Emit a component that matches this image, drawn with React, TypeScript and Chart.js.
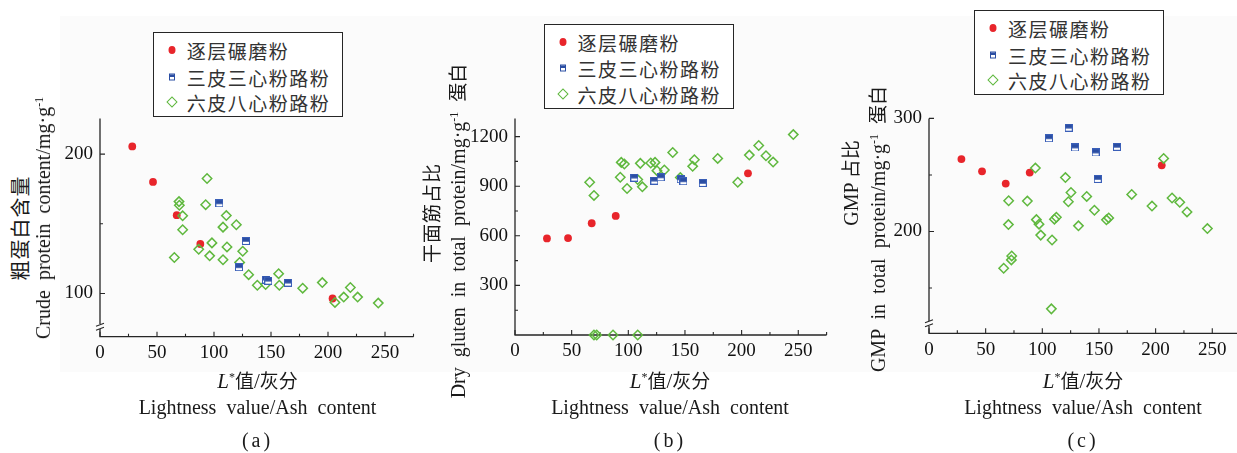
import React, { useEffect, useRef } from 'react';
import { Chart, registerables } from 'chart.js';
Chart.register(...registerables);

// ---------- data ----------
const seriesNames = ['逐层碾磨粉', '三皮三心粉路粉', '六皮八心粉路粉'];

// (a) crude protein content
const aRedX = [28.3, 46.5, 67.3, 88, 204];
const aRedY = [205.5, 180, 156.2, 135.5, 96.4];
const aBlueX = [104.7, 128, 121.9, 145.6, 147.6, 164.9];
const aBlueY = [164.7, 137.7, 118.9, 110, 109.2, 107.8];
const aGreenX = [93.9, 69.3, 69.6, 92.7, 72.5, 110.8, 107.9, 119.6, 72.5, 98.2, 111.4, 86.6, 125.2, 65.2, 96.2, 107.9, 122.5, 130.4, 156.7, 138, 145.3, 157.3, 177.8, 195, 219.6, 213.8, 206.1, 226, 244.1];
const aGreenY = [182.5, 165.9, 163.3, 163.7, 155.7, 155.9, 147.6, 149.3, 145.7, 136.3, 133.4, 131.7, 130.3, 125.8, 127, 124.2, 122.3, 113.5, 114.2, 105.9, 106.4, 105.9, 103.8, 107.8, 104.3, 97.4, 93.6, 97.4, 93.1];

// (b) dry gluten in total protein
const bRedX = [28.2, 46.8, 67.7, 88.9, 205.6];
const bRedY = [584, 586, 676, 720, 978];
const bBlueX = [105.3, 123, 128.6, 146.2, 148.6, 165.7];
const bBlueY = [952, 934, 954, 942, 930, 920];
const bGreenX = [65.9, 69.7, 92.9, 93.8, 96.5, 98.9, 108.3, 110.6, 112.4, 119.8, 123.6, 125.3, 131.8, 139.2, 145.9, 156.8, 158.3, 178.9, 196.6, 206.8, 215.1, 221.5, 227.8, 245.6, 69.7, 72.1, 86.5, 108.3];
const bGreenY = [924, 844, 954, 1044, 1034, 886, 940, 1038, 896, 1040, 1044, 994, 998, 1104, 952, 1020, 1060, 1068, 924, 1088, 1146, 1084, 1046, 1212, 0, 0, 0, 0];

// (c) GMP in total protein
const cRedX = [28.6, 46.8, 67.7, 88.9, 205.4];
const cRedY = [264, 253.2, 242.4, 252.1, 258.5];
const cBlueX = [105.9, 123.3, 128.9, 147.1, 148.9, 165.9];
const cBlueY = [282.5, 291.8, 274.3, 269.9, 246.5, 274.9];
const cGreenX = [93.9, 120.4, 70.3, 86.8, 125.3, 123, 139.2, 178.9, 196.8, 207.1, 214.5, 221.3, 227.7, 245.7, 146, 70.1, 94.8, 97.1, 110.7, 112.4, 131.9, 156.6, 158.6, 98.6, 108.6, 73, 72.7, 65.9, 108];
const cGreenY = [256.1, 247.7, 227.2, 226.9, 234.5, 226.3, 231, 232.8, 222.5, 264.6, 229.6, 225.8, 217.3, 202.6, 218.8, 206.1, 210.5, 206.5, 210.9, 212.6, 205, 210.3, 212, 196.8, 192.5, 178.4, 174.9, 167.5, 131.6];

// ticks
const xMajorTicks = [0, 50, 100, 150, 200, 250];
const xMinorTicks = [25, 75, 125, 175, 225, 275];
const aYMajor = [100, 200];
const aYMinor = [150];
const bYMajor = [300, 600, 900, 1200];
const bYMinor = [150, 450, 750, 1050];
const cYMajor = [200, 300];
const cYMinor = [150, 250];

// ---------- styles ----------
const RED = '#e8252b';
const BLUE = '#2b4ea3';
const GREEN = '#5fb83e';
const AXIS = '#262626';
const SERIF = "'Liberation Serif', 'Times New Roman', Times, 'DejaVu Serif', serif";
const CJK = "'Noto Sans CJK SC', sans-serif";

function makeBlueMarker(): HTMLCanvasElement {
  const c = document.createElement('canvas');
  c.width = 8;
  c.height = 8;
  const g = c.getContext('2d')!;
  g.fillStyle = '#ffffff';
  g.fillRect(0, 0, 8, 8);
  g.fillStyle = BLUE;
  g.fillRect(0, 0, 8, 4.8);
  g.strokeStyle = '#3a5fb8';
  g.lineWidth = 1;
  g.strokeRect(0.5, 0.5, 7, 7);
  return c;
}

const toPts = (xs: number[], ys: number[]) => xs.map((x, i) => ({ x, y: ys[i] }));

const axesPlugin = {
  id: 'axesPlugin',
  beforeDatasetsDraw(chart: any, _args: any, opts: any) {
    const { ctx, chartArea } = chart;
    const { left, right, top, bottom } = chartArea;
    const xs = chart.scales.x;
    const ys = chart.scales.y;
    ctx.save();
    ctx.strokeStyle = AXIS;
    ctx.lineWidth = 1.3;
    ctx.beginPath();
    ctx.moveTo(left, top);
    ctx.lineTo(left, bottom);
    ctx.moveTo(left - 0.6, bottom);
    ctx.lineTo(right, bottom);
    ctx.stroke();
    ctx.lineWidth = 1.1;
    ctx.beginPath();
    for (const v of xMajorTicks) {
      const p = xs.getPixelForValue(v);
      ctx.moveTo(p, bottom);
      ctx.lineTo(p, bottom - 5);
    }
    for (const v of xMinorTicks) {
      const p = xs.getPixelForValue(v);
      ctx.moveTo(p, bottom);
      ctx.lineTo(p, bottom - 3);
    }
    for (const v of opts.yMajor) {
      const p = ys.getPixelForValue(v);
      ctx.moveTo(left, p);
      ctx.lineTo(left + 5, p);
    }
    for (const v of opts.yMinor) {
      const p = ys.getPixelForValue(v);
      ctx.moveTo(left, p);
      ctx.lineTo(left + 3, p);
    }
    ctx.stroke();
    if (opts.brk) {
      const by = bottom - 10;
      ctx.clearRect(left - 2, by - 2.5, 4, 5);
      ctx.beginPath();
      ctx.lineWidth = 1.1;
      ctx.moveTo(left - 4, by - 0.5);
      ctx.lineTo(left + 4, by - 3.5);
      ctx.moveTo(left - 4, by + 3.5);
      ctx.lineTo(left + 4, by + 0.5);
      ctx.stroke();
    }
    ctx.restore();
  },
};

type PanelCfg = {
  box: { left: number; top: number; width: number; height: number };
  area: { left: number; top: number; right: number; bottom: number };
  yMin: number;
  yMax: number;
  yMajor: number[];
  yMinor: number[];
  brk: boolean;
  red: { x: number; y: number }[];
  blue: { x: number; y: number }[];
  green: { x: number; y: number }[];
};

const panels: PanelCfg[] = [
  {
    box: { left: 40, top: 100, width: 390, height: 270 },
    area: { left: 100, top: 116.7, right: 413.5, bottom: 336.7 },
    yMin: 69, yMax: 225.6, yMajor: aYMajor, yMinor: aYMinor, brk: true,
    red: toPts(aRedX, aRedY), blue: toPts(aBlueX, aBlueY), green: toPts(aGreenX, aGreenY),
  },
  {
    box: { left: 455, top: 100, width: 388, height: 270 },
    area: { left: 515, top: 116.7, right: 826.6, bottom: 335 },
    yMin: 0, yMax: 1310, yMajor: bYMajor, yMinor: bYMinor, brk: false,
    red: toPts(bRedX, bRedY), blue: toPts(bBlueX, bBlueY), green: toPts(bGreenX, bGreenY),
  },
  {
    box: { left: 868.5, top: 100, width: 388, height: 270 },
    area: { left: 928.5, top: 116.7, right: 1240.1, bottom: 333.3 },
    yMin: 110, yMax: 300, yMajor: cYMajor, yMinor: cYMinor, brk: true,
    red: toPts(cRedX, cRedY), blue: toPts(cBlueX, cBlueY), green: toPts(cGreenX, cGreenY),
  },
];

function ScatterPanel({ cfg }: { cfg: PanelCfg }) {
  const ref = useRef<HTMLCanvasElement>(null);
  useEffect(() => {
    const { box, area } = cfg;
    const yWidth = area.left - box.left;
    const xHeight = box.top + box.height - area.bottom;
    const padTop = area.top - box.top;
    const padRight = box.left + box.width - area.right;
    const blueImg = makeBlueMarker();
    const chart = new Chart(ref.current!, {
      type: 'scatter',
      data: {
        datasets: [
          {
            label: seriesNames[1], data: cfg.blue, pointStyle: blueImg as any, pointRadius: 4,
            backgroundColor: BLUE, borderColor: BLUE, clip: false as any,
          },
          {
            label: seriesNames[2], data: cfg.green, pointStyle: 'rectRot', pointRadius: 4.7,
            backgroundColor: 'rgba(0,0,0,0)', borderColor: GREEN, borderWidth: 1.5, clip: false as any,
          },
          {
            label: seriesNames[0], data: cfg.red, pointStyle: 'circle', pointRadius: 3.9,
            backgroundColor: RED, borderColor: RED, borderWidth: 0, clip: false as any,
          },
        ],
      },
      options: {
        responsive: false,
        animation: false,
        devicePixelRatio: 1,
        layout: { padding: { top: padTop, right: padRight, left: 0, bottom: 0 } },
        plugins: {
          legend: { display: false },
          tooltip: { enabled: false },
          axesPlugin: { yMajor: cfg.yMajor, yMinor: cfg.yMinor, brk: cfg.brk },
        } as any,
        scales: {
          x: {
            type: 'linear', min: 0, max: 275,
            grid: { display: false, drawTicks: false },
            border: { display: false },
            ticks: { padding: 5, color: '#111', font: { family: SERIF, size: 19 }, maxRotation: 0, callback: (v: any) => String(v) },
            afterBuildTicks: (s: any) => { s.ticks = xMajorTicks.map((v) => ({ value: v })); },
            afterFit: (s: any) => { s.height = xHeight; },
          },
          y: {
            type: 'linear', min: cfg.yMin, max: cfg.yMax,
            grid: { display: false, drawTicks: false },
            border: { display: false },
            ticks: { padding: 7, color: '#111', font: { family: SERIF, size: 19 }, callback: (v: any) => String(v) },
            afterBuildTicks: (s: any) => { s.ticks = cfg.yMajor.map((v) => ({ value: v })); },
            afterFit: (s: any) => { s.width = yWidth; },
          },
        },
      },
      plugins: [axesPlugin as any],
    });
    return () => chart.destroy();
  }, [cfg]);
  const { box } = cfg;
  return (
    <canvas
      ref={ref}
      width={box.width}
      height={box.height}
      style={{ position: 'absolute', left: box.left, top: box.top, width: box.width, height: box.height }}
    />
  );
}

const centered = (cx: number, cy: number, rot = false): React.CSSProperties => ({
  position: 'absolute',
  left: cx,
  top: cy,
  transform: `translate(-50%, -50%)${rot ? ' rotate(-90deg)' : ''}`,
  whiteSpace: 'nowrap',
  lineHeight: 1,
  color: '#1a1a1a',
});

function Legend({ left, top }: { left: number; top: number }) {
  const rowTops = [16.7, 43.4, 68.7];
  const markers = [
    <div style={{ width: 7, height: 8, borderRadius: '50%', background: RED }} />,
    <div style={{ width: 6, height: 7, border: `1px solid ${BLUE}`, boxSizing: 'border-box', background: `linear-gradient(${BLUE} 0 55%, #fff 55% 100%)` }} />,
    <div style={{ width: 6, height: 6, border: `1.3px solid ${GREEN}`, transform: 'rotate(45deg)' }} />,
  ];
  return (
    <div style={{ position: 'absolute', left, top, width: 190, height: 85, border: `1.4px solid ${AXIS}`, boxSizing: 'border-box', background: '#fff' }}>
      {seriesNames.map((n, i) => (
        <React.Fragment key={n}>
          <div style={{ position: 'absolute', left: 18, top: rowTops[i], transform: 'translate(-50%, -50%)' }}>{markers[i]}</div>
          <div style={{ position: 'absolute', left: 33, top: rowTops[i], transform: 'translateY(-50%)', fontFamily: CJK, fontSize: 19, letterSpacing: 1.5, color: '#333', whiteSpace: 'nowrap', lineHeight: 1 }}>{n}</div>
        </React.Fragment>
      ))}
    </div>
  );
}

const cjk = (t: string) => <span style={{ fontFamily: CJK, fontSize: 19 }}>{t}</span>;
const sup = (t: string) => <sup style={{ fontSize: 12, verticalAlign: 7 }}>{t}</sup>;

function XTitles({ cx, tag }: { cx: number; tag: string }) {
  return (
    <>
      <div style={{ ...centered(cx, 381), fontFamily: SERIF, fontSize: 21 }}>
        <i>L</i>{sup('*')}{cjk('值')}/{cjk('灰分')}
      </div>
      <div style={{ ...centered(cx, 407), fontFamily: SERIF, fontSize: 20, wordSpacing: 5 }}>Lightness value/Ash content</div>
      <div style={{ ...centered(cx, 440), fontFamily: SERIF, fontSize: 20, letterSpacing: 3 }}>({tag})</div>
    </>
  );
}

export default function App() {
  return (
    <div style={{ position: 'absolute', left: 0, top: 0, width: 1237, height: 453, overflow: 'hidden', background: '#fff' }}>
      <div style={{ position: 'absolute', left: 60, top: 16, width: 1177, height: 356, background: '#fbfbfb' }} />
      {panels.map((p, i) => <ScatterPanel key={i} cfg={p} />)}

      {/* y titles */}
      <div style={{ ...centered(20, 228, true), fontFamily: CJK, fontSize: 20, letterSpacing: 1 }}>粗蛋白含量</div>
      <div style={{ ...centered(43, 218, true), fontFamily: SERIF, fontSize: 20, wordSpacing: 5 }}>Crude protein content/mg·g{sup('-1')}</div>

      <div style={{ ...centered(430, 213, true), fontFamily: CJK, fontSize: 19, letterSpacing: 1 }}>干面筋占比</div>
      <div style={{ ...centered(457, 231, true), fontFamily: SERIF, fontSize: 20, wordSpacing: 5 }}>Dry gluten in total protein/mg·g{sup('-1')} {cjk('蛋白')}</div>

      <div style={{ ...centered(850, 183, true), fontFamily: SERIF, fontSize: 20 }}>GMP {cjk('占比')}</div>
      <div style={{ ...centered(877, 229, true), fontFamily: SERIF, fontSize: 20, wordSpacing: 5 }}>GMP in total protein/mg·g{sup('-1')} {cjk('蛋白')}</div>

      <XTitles cx={257.5} tag="a" />
      <XTitles cx={670} tag="b" />
      <XTitles cx={1083} tag="c" />

      <Legend left={152.7} top={32.3} />
      <Legend left={543.5} top={24} />
      <Legend left={974} top={10.3} />
    </div>
  );
}
